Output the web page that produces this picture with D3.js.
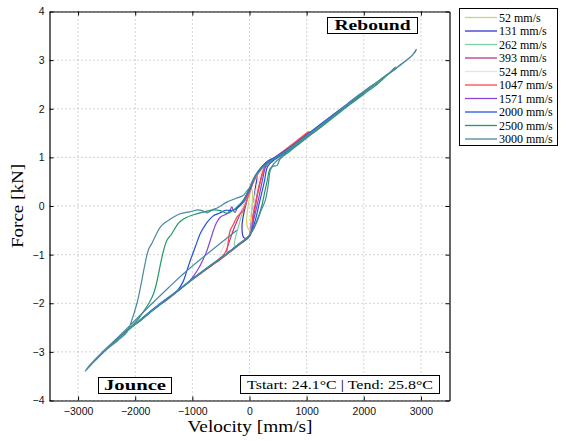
<!DOCTYPE html>
<html><head><meta charset="utf-8">
<script src="https://cdn.jsdelivr.net/npm/d3@7"></script>
<style>body{margin:0;background:#fff}svg{display:block}.sf{font-family:"Liberation Serif","DejaVu Serif","Noto Serif",serif}</style>
</head><body><svg id="c" width="561" height="441"></svg>
<script>
const seriesLabels = ["52 mm/s","131 mm/s","262 mm/s","393 mm/s","524 mm/s","1047 mm/s","1571 mm/s","2000 mm/s","2500 mm/s","3000 mm/s"];
const xTicks = [-3000,-2000,-1000,0,1000,2000,3000];
const yTicks = [-4,-3,-2,-1,0,1,2,3,4];
const loop52 = [[2,0.2],[-30,-0.05],[-52,-0.3],[-30,-0.45],[0,-0.5],[30,-0.15],[52,0.3],[30,0.35],[2,0.2]];
const loop131 = [[5,0.3],[-60,0.05],[-131,-0.4],[-100,-0.65],[-40,-0.66],[0,-0.6],[50,-0.15],[100,0.35],[131,0.62],[100,0.58],[50,0.48],[5,0.3]];
const loop262 = [[8,0.28],[-100,-0.05],[-200,-0.45],[-262,-0.82],[-200,-0.8],[-100,-0.71],[0,-0.6],[80,-0.1],[160,0.4],[262,0.8],[200,0.73],[100,0.58],[8,0.28]];
const loop393 = [[10,0.3],[-150,-0.12],[-300,-0.55],[-393,-0.95],[-300,-0.89],[-150,-0.75],[0,-0.6],[80,-0.15],[160,0.35],[250,0.75],[393,0.96],[300,0.9],[150,0.68],[60,0.48],[10,0.3]];
const loop524 = [[12,0.3],[-100,0.02],[-250,-0.3],[-400,-0.68],[-524,-1.07],[-450,-1.02],[-300,-0.9],[-150,-0.76],[0,-0.62],[40,-0.25],[100,0.25],[200,0.68],[350,0.9],[524,1.04],[420,0.97],[250,0.82],[120,0.6],[40,0.42],[12,0.3]];
const loop1047 = [[12,0.32],[-60,0.08],[-105,-0.09],[-163,-0.16],[-221,-0.23],[-280,-0.37],[-338,-0.5],[-368,-0.7],[-396,-0.88],[-450,-1.0],[-600,-1.15],[-800,-1.33],[-1000,-1.5],[-1047,-1.54],[-950,-1.47],[-750,-1.3],[-500,-1.09],[-300,-0.91],[-150,-0.77],[0,-0.62],[60,-0.2],[130,0.2],[200,0.55],[280,0.85],[330,0.9],[500,1.05],[750,1.27],[1000,1.5],[1047,1.53],[950,1.44],[750,1.25],[500,1.04],[300,0.9],[180,0.72],[80,0.52],[12,0.32]];
const loop1571 = [[12,0.4],[-80,0.12],[-163,0.01],[-220,-0.05],[-250,-0.13],[-280,-0.1],[-308,-0.02],[-338,-0.08],[-396,-0.16],[-513,-0.23],[-580,-0.35],[-630,-0.5],[-690,-0.72],[-746,-0.92],[-820,-1.12],[-900,-1.3],[-980,-1.44],[-1050,-1.54],[-1250,-1.74],[-1500,-1.96],[-1571,-2.02],[-1500,-1.98],[-1250,-1.75],[-1000,-1.51],[-750,-1.29],[-500,-1.08],[-300,-0.9],[-150,-0.76],[0,-0.62],[80,-0.25],[160,0.15],[230,0.55],[300,0.85],[450,0.98],[700,1.17],[1000,1.44],[1250,1.67],[1571,1.96],[1450,1.86],[1200,1.64],[900,1.37],[650,1.15],[450,1.0],[300,0.9],[180,0.75],[80,0.58],[12,0.4]];
const loop2000 = [[12,0.35],[-60,0.22],[-105,0.11],[-221,-0.05],[-300,-0.09],[-425,-0.09],[-530,-0.15],[-630,-0.2],[-718,-0.3],[-790,-0.42],[-863,-0.57],[-951,-0.85],[-1030,-1.1],[-1096,-1.33],[-1160,-1.55],[-1250,-1.72],[-1500,-1.95],[-1750,-2.18],[-1930,-2.36],[-1985,-2.42],[-1900,-2.35],[-1750,-2.2],[-1500,-1.97],[-1250,-1.74],[-1000,-1.5],[-750,-1.28],[-500,-1.07],[-300,-0.89],[-150,-0.75],[0,-0.62],[100,-0.3],[180,0.1],[260,0.5],[320,0.82],[450,0.96],[700,1.15],[1000,1.43],[1250,1.66],[1500,1.89],[1750,2.11],[1980,2.33],[1900,2.27],[1700,2.09],[1400,1.82],[1100,1.55],[800,1.28],[550,1.08],[400,0.97],[300,0.9],[200,0.79],[100,0.62],[12,0.35]];
const loop2500 = [[12,0.4],[-46,0.25],[-120,0.1],[-221,-0.02],[-300,-0.1],[-396,-0.15],[-500,-0.1],[-630,-0.08],[-800,-0.12],[-980,-0.18],[-1130,-0.25],[-1214,-0.32],[-1272,-0.4],[-1360,-0.57],[-1447,-0.71],[-1500,-0.9],[-1550,-1.15],[-1593,-1.4],[-1640,-1.65],[-1681,-1.81],[-1750,-1.98],[-1884,-2.22],[-2000,-2.4],[-2200,-2.6],[-2400,-2.82],[-2470,-2.9],[-2400,-2.84],[-2200,-2.63],[-2000,-2.44],[-1750,-2.2],[-1500,-1.97],[-1250,-1.74],[-1000,-1.51],[-750,-1.29],[-500,-1.08],[-300,-0.9],[-150,-0.76],[-17,-0.64],[60,-0.48],[130,-0.3],[217,0.01],[260,0.25],[305,0.49],[362,0.77],[420,0.82],[480,0.83],[537,0.97],[700,1.12],[1000,1.4],[1250,1.62],[1500,1.85],[1750,2.08],[2000,2.3],[2250,2.52],[2450,2.74],[2552,2.86],[2520,2.8],[2400,2.7],[2200,2.52],[2000,2.34],[1700,2.06],[1400,1.79],[1100,1.52],[800,1.26],[550,1.06],[400,0.95],[300,0.88],[200,0.77],[120,0.65],[50,0.5],[12,0.4]];
const loop3000 = [[-221,-0.5],[-1096,-1.33],[-1400,-1.66],[-1700,-2.0],[-2000,-2.35],[-2300,-2.7],[-2600,-3.03],[-2876,-3.4],[-2800,-3.28],[-2600,-3.03],[-2400,-2.82],[-2200,-2.62],[-2000,-2.43],[-1750,-2.19],[-1500,-1.96],[-1250,-1.73],[-1000,-1.5],[-750,-1.28],[-500,-1.07],[-300,-0.89],[-150,-0.75],[-50,-0.66],[50,-0.52],[130,-0.33],[200,-0.1],[275,0.11],[330,0.45],[362,0.73],[420,0.86],[600,1.05],[800,1.24],[1000,1.42],[1250,1.65],[1500,1.87],[1750,2.1],[2000,2.32],[2250,2.55],[2500,2.77],[2700,2.95],[2850,3.1],[2919,3.22],[2900,3.17],[2800,3.05],[2600,2.87],[2300,2.6],[2000,2.36],[1700,2.08],[1400,1.8],[1100,1.53],[800,1.27],[550,1.06],[400,0.95],[305,0.87],[200,0.76],[130,0.66],[60,0.5],[12,0.39],[-50,0.3],[-105,0.22],[-250,0.15],[-396,0.08],[-550,-0.03],[-650,-0.08],[-746,-0.14],[-820,-0.1],[-893,-0.08],[-1050,-0.12],[-1214,-0.16],[-1400,-0.28],[-1500,-0.36],[-1564,-0.44],[-1640,-0.6],[-1700,-0.75],[-1769,-0.9],[-1830,-1.2],[-1884,-1.53],[-1930,-1.8],[-1972,-2.01],[-2060,-2.35],[-2148,-2.6],[-2300,-2.76],[-2500,-2.95],[-2700,-3.18],[-2860,-3.38]];
const loops = [loop52,loop131,loop262,loop393,loop524,loop1047,loop1571,loop2000,loop2500,loop3000];
const colors = ["#d2d072","#3535c8","#80cfa0","#bb3388","#e4e4e4","#ff4848","#8844dd","#2255dd","#1f9a62","#4b89a2"];

const svg = d3.select("#c");
const x = d3.scaleLinear().domain([-3500,3500]).range([49.5,449.5]);
const y = d3.scaleLinear().domain([-4,4]).range([400.5,11.5]);
const sans = "Liberation Sans, Arial, sans-serif";

// grid
const grid = svg.append("g").attr("stroke","#a8a8a8").attr("stroke-width",1).attr("stroke-dasharray","1,3");
xTicks.forEach(t=>grid.append("line").attr("x1",x(t)).attr("x2",x(t)).attr("y1",y(4)).attr("y2",y(-4)));
yTicks.forEach(t=>grid.append("line").attr("x1",x(-3500)).attr("x2",x(3500)).attr("y1",y(t)).attr("y2",y(t)));

// series
const line = d3.line().x(d=>x(d[0])).y(d=>y(d[1])).curve(d3.curveCatmullRom.alpha(0.5));
loops.forEach((l,i)=>{
  svg.append("path").attr("d",line(l)).attr("fill","none").attr("stroke",colors[i]).attr("stroke-width",1.2).attr("stroke-linejoin","round");
});

// axes
const fmt = d=> d<0 ? "\u2212"+Math.abs(d) : ""+d;
const ax = svg.append("g").attr("transform",`translate(0,${y(-4)})`).call(d3.axisBottom(x).tickValues(xTicks).tickSizeInner(-4).tickSizeOuter(0).tickPadding(7).tickFormat(fmt));
const axT = svg.append("g").attr("transform",`translate(0,${y(4)})`).call(d3.axisTop(x).tickValues(xTicks).tickSizeInner(-4).tickSizeOuter(0).tickFormat(""));
const ay = svg.append("g").attr("transform",`translate(${x(-3500)},0)`).call(d3.axisLeft(y).tickValues(yTicks).tickSizeInner(-4).tickSizeOuter(0).tickPadding(5).tickFormat(fmt));
const ayR = svg.append("g").attr("transform",`translate(${x(3500)},0)`).call(d3.axisRight(y).tickValues(yTicks).tickSizeInner(-4).tickSizeOuter(0).tickFormat(""));
[ax,axT,ay,ayR].forEach(g=>{g.select(".domain").attr("stroke","#000").attr("stroke-width",1.2);g.selectAll(".tick line").attr("stroke","#000");g.selectAll("text").attr("font-family",sans).attr("font-size",10.5).attr("fill","#111");});

// axis labels
svg.append("text").attr("class","sf").attr("x",250).attr("y",432).attr("text-anchor","middle").style("font-size","17px").attr("textLength",125).attr("lengthAdjust","spacingAndGlyphs").text("Velocity [mm/s]");
svg.append("text").attr("class","sf").attr("transform","translate(23,206) rotate(-90)").attr("text-anchor","middle").style("font-size","17px").attr("textLength",84).attr("lengthAdjust","spacingAndGlyphs").text("Force [kN]");

// annotation boxes
function box(x0,y0,w,h,txt,bold,tl){
  svg.append("rect").attr("x",x0).attr("y",y0).attr("width",w).attr("height",h).attr("fill","#fff").attr("stroke","#000").attr("stroke-width",1);
  svg.append("text").attr("class","sf").attr("x",x0+w/2).attr("y",y0+h/2+4.5).attr("text-anchor","middle").style("font-weight",bold?"bold":"normal").style("font-size",(bold?15:13.5)+"px").attr("textLength",tl).attr("lengthAdjust","spacingAndGlyphs").text(txt);
}
box(327.5,17.5,90,16,"Rebound",true,76);
box(98.5,377.5,73,16,"Jounce",true,62);
box(240.5,375.5,199,18,"Tstart: 24.1\u00B0C | Tend: 25.8\u00B0C",false,186);

// legend
const lg = svg.append("g");
lg.append("rect").attr("x",459.5).attr("y",8.5).attr("width",98).attr("height",137).attr("fill","#fff").attr("stroke","#000").attr("stroke-width",1);
seriesLabels.forEach((s,i)=>{
  const cy = 17.5 + i*13.5;
  lg.append("line").attr("x1",465).attr("x2",497).attr("y1",cy).attr("y2",cy).attr("stroke",colors[i]).attr("stroke-width",1.3);
  lg.append("text").attr("class","sf").attr("x",499).attr("y",cy+4).style("font-size","12px").text(s);
});
</script></body></html>
